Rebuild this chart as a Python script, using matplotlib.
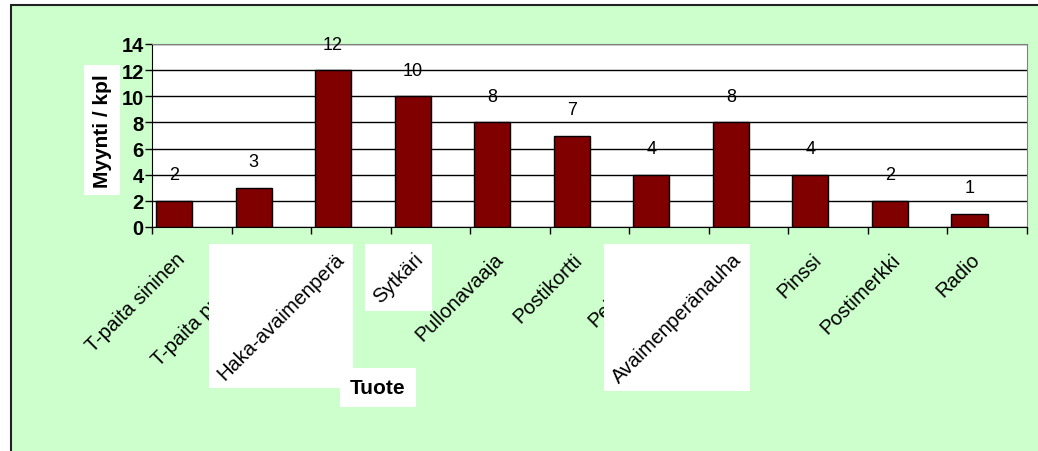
""" Myynti tuotteittain - pylväskaavio
"""
import numpy as np
import matplotlib.pyplot as plt
import matplotlib.patches as pat
import matplotlib.transforms as mtrans

plt.rcParams['font.family'] = ['Liberation Sans', 'DejaVu Sans']

# data
products = ['T-paita sininen', 'T-paita punainen', 'Haka-avaimenperä', 'Sytkäri',
            'Pullonavaaja', 'Postikortti', 'Pehmolelu', 'Avaimenperänauha',
            'Pinssi', 'Postimerkki', 'Radio']
sales = [2, 3, 12, 10, 8, 7, 4, 8, 4, 2, 1]
yticks = [0, 2, 4, 6, 8, 10, 12, 14]
boxed = [2, 3, 7]  # labels shown on a white patch
xlabel = 'Tuote'
ylabel = 'Myynti / kpl'

# fig config
W, H = 1038, 452
bg_color = '#ccffcc'
bar_color = '#800000'
fsize_tick = 14.5
fsize_ytick = 14.5
fsize_val = 13
fsize_lab = 15

fig = plt.figure(figsize=(W/100, H/100), dpi=100)
fig.patch.set_facecolor('white')
frame = pat.Rectangle((11/W, -0.1), 1.1, 1 - 6/H + 0.1, transform=fig.transFigure,
                      facecolor=bg_color, edgecolor='#222222', lw=1.5, zorder=-1)
fig.add_artist(frame)

ax = fig.add_axes([152/W, 1 - 228/H, 875/W, 183/H])
ax.set_facecolor('white')
n = len(products)
x = np.arange(n)
# bars sit in the left half of each category slot
bar_x = x - 0.5 + 0.277
ax.bar(bar_x, sales, width=0.453, color=bar_color, edgecolor='black', lw=1, zorder=3)
for xi, v in zip(bar_x, sales):
    ax.text(xi, v + 2.0, str(v), ha='center', va='center', fontsize=fsize_val)

ax.set_xlim(-0.5, n - 0.5)
ax.set_ylim(0, 14)
ax.set_yticks(yticks)
ax.set_xticks(np.arange(n + 1) - 0.5)
ax.set_xticklabels([])
ax.tick_params(axis='both', direction='out', length=5, color='black', width=1)
ax.tick_params(axis='y', pad=1, labelsize=fsize_ytick)
plt.setp(ax.get_yticklabels(), fontweight='bold')
ax.yaxis.grid(True, color='black', lw=1)
ax.set_axisbelow(True)
ax.xaxis.set_zorder(6)  # keep the axis title above the label patches
for s in ['top', 'right']:
    ax.spines[s].set_color('#808080')
for s in ['left', 'bottom']:
    ax.spines[s].set_color('black')

# category labels
trans = ax.get_xaxis_transform() + mtrans.ScaledTranslation(-10/100, -29/100, fig.dpi_scale_trans)
tlabels = []
for i, name in enumerate(products):
    z = 5 if i in boxed else 3
    t = ax.text(i, 0, name, transform=trans, rotation=45, rotation_mode='anchor',
                ha='right', va='center', fontsize=fsize_tick, zorder=z, clip_on=False)
    tlabels.append(t)

ax.set_ylabel(ylabel, fontsize=fsize_lab, fontweight='bold',
              bbox=dict(boxstyle='square,pad=0.4', fc='white', ec='none'))
ax.yaxis.set_label_coords(-0.046, 0.53)
ax.set_xlabel(xlabel, fontsize=fsize_lab, fontweight='bold',
              bbox=dict(boxstyle='square,pad=0.5', fc='white', ec='none'))
ax.xaxis.set_label_coords(0.258, -0.825)

# white square patches behind some labels
fig.canvas.draw()
inv = fig.transFigure.inverted()
for i in boxed:
    bb = tlabels[i].get_window_extent().padded(5)
    side = max(bb.width, bb.height)
    x0, y1 = bb.x1 - side, bb.y0 + side
    (fx0, fy0), (fx1, fy1) = inv.transform([(x0, bb.y0), (bb.x1, y1)])
    rect = pat.Rectangle((fx0, fy0), fx1 - fx0, fy1 - fy0, transform=fig.transFigure,
                         facecolor='white', edgecolor='none', zorder=4, clip_on=False)
    ax.add_artist(rect)

plt.savefig('out.png', dpi=100)
